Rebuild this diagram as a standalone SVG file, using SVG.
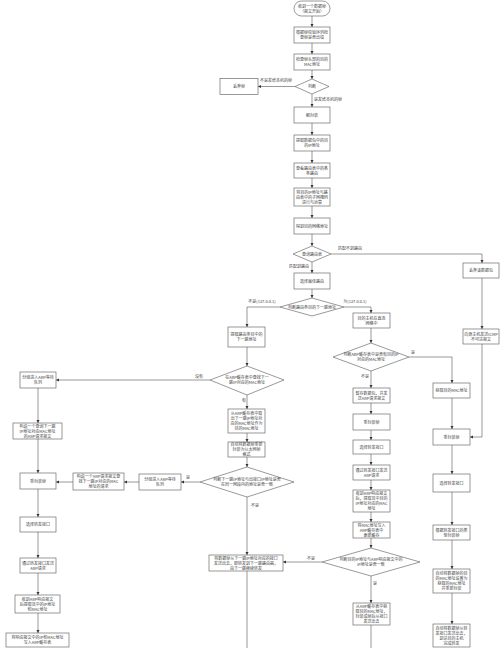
<svg xmlns="http://www.w3.org/2000/svg" width="500" height="648" viewBox="0 0 500 648">
<defs>
<marker id="a" viewBox="0 0 6 6" refX="6" refY="3" markerWidth="3.2" markerHeight="3.2" markerUnits="userSpaceOnUse" orient="auto"><path d="M0,0 L6,3 L0,6z" fill="#333"/></marker>
</defs>
<style>
rect,polygon{fill:#fff;stroke:#555;stroke-width:.6}
text{font-family:"Noto Sans CJK SC","Noto Sans",sans-serif;font-size:4px;fill:#444;text-anchor:middle}
.l{text-anchor:start}
#edges path{fill:none;stroke:#555;stroke-width:.6;marker-end:url(#a)}
#edges path.n{marker-end:none}
</style>
<rect x="0" y="0" width="500" height="648" style="fill:#fff;stroke:none"/>
<g id="edges">
<path d="M312,16V27"/><path d="M312,43V54"/><path d="M312,70V79"/>
<path d="M295,86.5H258"/><path d="M312,94V107"/><path d="M312,123V135"/>
<path d="M312,151V163"/><path d="M312,178V188"/><path d="M312,206V218"/>
<path d="M312,234V246"/><path d="M331,254H482V263"/><path d="M312,262V273"/>
<path d="M312,289V298"/><path d="M280,307H247V327"/><path d="M344,307H371V313"/>
<path d="M247,347V366"/><path d="M210,380H56"/><path d="M247,395V409"/>
<path d="M247,433V442"/><path d="M247,457V467"/><path d="M200,482H181"/>
<path d="M139,482H124"/><path d="M73,482H56"/><path d="M247,497V555"/>
<path class="n" d="M247,571V648"/>
<path d="M38,388V423"/><path d="M38,439V473"/><path d="M38,489V517"/>
<path d="M38,532V558"/><path d="M38,573V595"/><path d="M38,613V633"/>
<path d="M482,278V329"/><path d="M482,344V437H470"/>
<path d="M371,328V343"/><path d="M409,357H452V383"/><path d="M371,371V388"/>
<path d="M371,403V414"/><path d="M371,430V440"/><path d="M371,454V465"/>
<path d="M371,480V490"/><path d="M371,512V522"/><path d="M371,538V548"/>
<path d="M322,562H283"/><path d="M371,576V603"/><path class="n" d="M371,625V648"/>
<path d="M452,398V429"/><path d="M452,445V474"/><path d="M452,492V525"/>
<path d="M452,540V569"/><path d="M452,593V624"/>
<text x="276" y="82">不是发给本机的帧</text>
<text class="l" x="314" y="101">是发给本机的帧</text>
<text class="l" x="338" y="250">匹配不到路由</text>
<text x="299" y="268">匹配到路由</text>
<text x="262" y="303">不是(127.0.0.1)</text>
<text x="355" y="303">为(127.0.0.1)</text>
<text x="199" y="378">没有</text>
<text x="244" y="402">有</text>
<text x="188" y="479">是</text>
<text class="l" x="251" y="507">不是</text>
<text x="311" y="560">不是</text>
<text x="413" y="354">是</text>
<text x="365" y="378">不是</text>
<text x="375" y="585">是</text>
</g>
<g id="start"><rect x="294" y="1" width="36" height="15" rx="7.5"/><text x="312" y="7.5">收到一个数据帧</text><text x="312" y="12.5">（报文开始）</text></g>
<g id="b2"><rect x="294" y="27" width="36" height="16"/><text x="312" y="34">根据帧校验序列检</text><text x="312" y="39">查帧是否出错</text></g>
<g id="b3"><rect x="294" y="54" width="36" height="16"/><text x="312" y="61">检查帧头部的目的</text><text x="312" y="66">MAC地址</text></g>
<g id="d1"><polygon points="295,86.5 312,79 329,86.5 312,94"/><text x="312" y="88">判断</text></g>
<g id="drop"><rect x="220" y="78.5" width="38" height="16"/><text x="239" y="88">丢弃帧</text></g>
<g id="b5"><rect x="294" y="107" width="36" height="16"/><text x="312" y="116.5">解封装</text></g>
<g id="b6"><rect x="294" y="135" width="36" height="16"/><text x="312" y="142">提取数据包中的目</text><text x="312" y="147">的IP地址</text></g>
<g id="b7"><rect x="294" y="163" width="36" height="15"/><text x="312" y="169.5">查看路由表中的各</text><text x="312" y="174.5">条路由</text></g>
<g id="b8"><rect x="294" y="188" width="36" height="18"/><text x="312" y="193.5">将目的IP地址与路</text><text x="312" y="198.5">由表中的子网掩码</text><text x="312" y="203.5">进行与运算</text></g>
<g id="b9"><rect x="294" y="218" width="36" height="16"/><text x="312" y="227.5">得到目的网络地址</text></g>
<g id="d2"><polygon points="293,254 312,246 331,254 312,262"/><text x="312" y="255.5">查询路由表</text></g>
<g id="b10"><rect x="294" y="273" width="36" height="16"/><text x="312" y="282.5">选择最佳路由</text></g>
<g id="d3"><polygon points="280,307 312,298 344,307 312,316"/><text x="312" y="308.5">判断路由条目的下一跳地址</text></g>
<g id="r1"><rect x="463" y="263" width="36" height="15"/><text x="481" y="272">丢弃该数据包</text></g>
<g id="r2"><rect x="463" y="329" width="36" height="15"/><text x="481" y="335.5">向源主机发送ICMP</text><text x="481" y="340.5">不可达报文</text></g>
<g id="l1"><rect x="228" y="327" width="37" height="20"/><text x="246.5" y="336">提取路由条目中的</text><text x="246.5" y="341">下一跳地址</text></g>
<g id="d4"><polygon points="210,380 247,366 284,380 247,395"/><text x="247" y="379">在ARP缓存表中查找下一</text><text x="247" y="384">跳IP对应的MAC地址</text></g>
<g id="l2"><rect x="228" y="409" width="37" height="24"/><text x="246.5" y="415">从ARP缓存表中取</text><text x="246.5" y="420">出下一跳IP地址对</text><text x="246.5" y="425">应的MAC地址作为</text><text x="246.5" y="430">目的MAC地址</text></g>
<g id="l3"><rect x="228" y="442" width="37" height="15"/><text x="246.5" y="446">自动将数据帧重新</text><text x="246.5" y="451">封装为以太网帧</text><text x="246.5" y="456">格式</text></g>
<g id="d5"><polygon points="200,482 247,467 294,482 247,497"/><text x="247" y="481">判断下一跳IP地址与出接口IP地址是否</text><text x="247" y="486">在同一网段内的地址是否一致</text></g>
<g id="lw"><rect x="139" y="474" width="42" height="16"/><text x="160" y="481">分组进入ARP等待</text><text x="160" y="486">队列</text></g>
<g id="lc"><rect x="73" y="473" width="51" height="17"/><text x="98.5" y="478">构造一个ARP请求报文查</text><text x="98.5" y="483">找下一跳IP对应的MAC</text><text x="98.5" y="488">地址的请求</text></g>
<g id="la1"><rect x="20" y="372" width="36" height="16"/><text x="38" y="379">分组进入ARP等待</text><text x="38" y="384">队列</text></g>
<g id="la2"><rect x="13" y="423" width="49" height="16"/><text x="37.5" y="427.5">构造一个查询下一跳</text><text x="37.5" y="432.5">IP地址对应MAC地址</text><text x="37.5" y="437.5">的ARP请求报文</text></g>
<g id="la3"><rect x="20" y="473" width="36" height="16"/><text x="38" y="482.5">重封装帧</text></g>
<g id="la4"><rect x="20" y="517" width="36" height="15"/><text x="38" y="526">选择转发接口</text></g>
<g id="la5"><rect x="20" y="558" width="36" height="15"/><text x="38" y="564.5">通过转发接口发送</text><text x="38" y="569.5">ARP请求</text></g>
<g id="la6"><rect x="15" y="595" width="45" height="18"/><text x="37.5" y="600.5">收到ARP响应报文</text><text x="37.5" y="605.5">后提取其中的IP地址</text><text x="37.5" y="610.5">和MAC地址</text></g>
<g id="la7"><rect x="6" y="633" width="63" height="14"/><text x="37.5" y="639">将响应报文中的IP和MAC地址</text><text x="37.5" y="644">写入ARP缓存表</text></g>
<g id="lb"><rect x="209" y="555" width="74" height="16"/><text x="246" y="559.5">将数据帧从下一跳IP地址对应的接口</text><text x="246" y="564.5">发送出去，即转发到下一跳路由器，</text><text x="246" y="569.5">由下一跳继续转发</text></g>
<g id="m1"><rect x="353" y="313" width="37" height="15"/><text x="371.5" y="319.5">目的主机在直连</text><text x="371.5" y="324.5">网络中</text></g>
<g id="d6"><polygon points="333,357 371,343 409,357 371,371"/><text x="371" y="356">判断ARP缓存表中是否有目的IP</text><text x="371" y="361">对应的MAC地址</text></g>
<g id="m2"><rect x="353" y="388" width="37" height="15"/><text x="371.5" y="394.5">暂存数据包，并发</text><text x="371.5" y="399.5">送ARP请求报文</text></g>
<g id="m3"><rect x="353" y="414" width="37" height="16"/><text x="371.5" y="423.5">重封装帧</text></g>
<g id="m4"><rect x="353" y="440" width="37" height="14"/><text x="371.5" y="448.5">选择转发接口</text></g>
<g id="m5"><rect x="353" y="465" width="37" height="15"/><text x="371.5" y="471.5">通过转发接口发送</text><text x="371.5" y="476.5">ARP请求</text></g>
<g id="m6"><rect x="353" y="490" width="37" height="22"/><text x="371.5" y="495">收到ARP响应报文</text><text x="371.5" y="500">后，提取其中目的</text><text x="371.5" y="505">IP地址对应的MAC</text><text x="371.5" y="510">地址</text></g>
<g id="m7"><rect x="353" y="522" width="37" height="16"/><text x="371.5" y="526.5">将MAC地址写入</text><text x="371.5" y="531.5">ARP缓存表中</text><text x="371.5" y="536.5">更新缓存</text></g>
<g id="d7"><polygon points="322,562 371,548 420,562 371,576"/><text x="371" y="561">判断目的IP地址与ARP响应报文中的</text><text x="371" y="566">IP地址是否一致</text></g>
<g id="m8"><rect x="353" y="603" width="37" height="22"/><text x="371.5" y="608">从ARP缓存表中获</text><text x="371.5" y="613">取目的MAC地址，</text><text x="371.5" y="618">封装成帧后从接口</text><text x="371.5" y="623">发送出去</text></g>
<g id="ra"><rect x="433" y="383" width="37" height="15"/><text x="451.5" y="392">获取目的MAC地址</text></g>
<g id="rb"><rect x="433" y="429" width="37" height="16"/><text x="451.5" y="438.5">重封装帧</text></g>
<g id="rc"><rect x="433" y="474" width="37" height="18"/><text x="451.5" y="484.5">选择转发接口</text></g>
<g id="rd"><rect x="433" y="525" width="37" height="15"/><text x="451.5" y="531.5">根据转发接口的类</text><text x="451.5" y="536.5">型封装帧</text></g>
<g id="re"><rect x="433" y="569" width="37" height="24"/><text x="451.5" y="575">自动将数据帧的目</text><text x="451.5" y="580">的MAC地址设置为</text><text x="451.5" y="585">获取的MAC地址</text><text x="451.5" y="590">并重新封装</text></g>
<g id="rf"><rect x="433" y="624" width="37" height="23"/><text x="451.5" y="629.5">自动将数据帧从转</text><text x="451.5" y="634.5">发接口发送出去，</text><text x="451.5" y="639.5">到达目的主机</text><text x="451.5" y="644.5">完成转发</text></g>
</svg>
